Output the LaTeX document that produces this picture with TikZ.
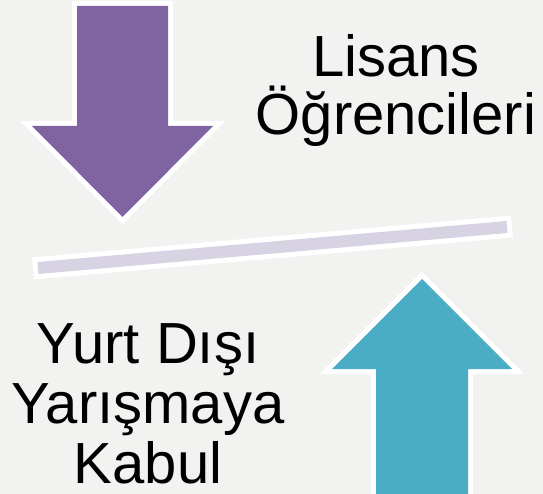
\documentclass[tikz,border=0pt]{standalone}
\usepackage{fontspec}
\setmainfont{Liberation Sans}
\usetikzlibrary{calc}
\definecolor{bgc}{HTML}{F2F2F1}
\definecolor{purp}{HTML}{8064A2}
\definecolor{aqua}{HTML}{4BACC6}
\definecolor{barc}{HTML}{D8D3E3}
\tikzset{
  bigarrow/.style={fill=#1, preaction={draw=white, line width=10pt, line join=miter}},
  lbl/.style={anchor=base, align=center, inner sep=0pt, font=\fontsize{58}{#1}\selectfont, text=black}
}
\begin{document}
\begin{tikzpicture}[x=1pt,y=-1pt]
\fill[bgc] (0,0) rectangle (543,494);
\useasboundingbox (0,0) rectangle (543,494);
% down arrow
\path[bigarrow=purp] (77,6) -- (168,6) -- (168,126) -- (213,126) -- (122.5,217) -- (32,126) -- (77,126) -- cycle;
% up arrow
\path[bigarrow=aqua] (376,510) -- (376,369) -- (332,369) -- (422,279) -- (512,369) -- (468,369) -- (468,510) -- cycle;
% bar
\coordinate (bl) at (38,268);
\coordinate (br) at (507,227);
\draw[white, line width=22pt, line cap=butt] ($(bl)!-5pt!(br)$) -- ($(br)!-5pt!(bl)$);
\draw[barc, line width=12pt, line cap=butt] (bl) -- (br);
% labels
\node[lbl=58.5] (top) at (396,135) {Lisans\\Öğrencileri};
\node[lbl=60] (bot) at (148,483) {Yurt Dışı\\Yarışmaya\\Kabul};
\end{tikzpicture}
\end{document}
